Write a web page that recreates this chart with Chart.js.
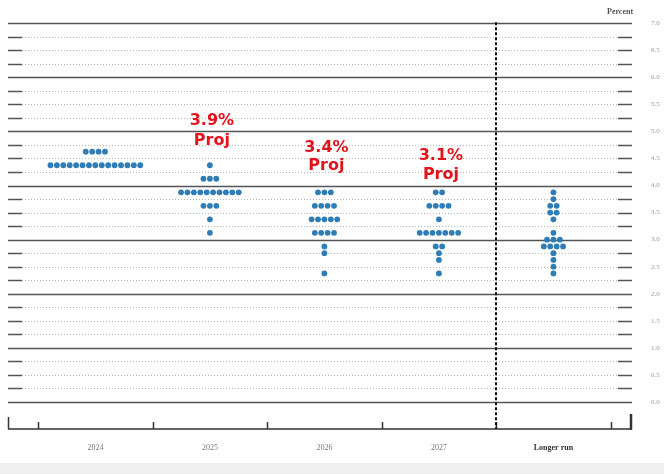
<!DOCTYPE html>
<html lang="en">
<head>
  <meta charset="UTF-8">
  <title>FOMC dot plot</title>
  <script src="https://cdn.jsdelivr.net/npm/chart.js@4.4.1/dist/chart.umd.min.js"></script>
  <style>
    html, body { margin: 0; padding: 0; background: #fff; }
    canvas { display: block; }
  </style>
</head>
<body>

  <canvas id="dotPlot" width="664" height="474"></canvas>

  <script>
    // Categories along the bottom
    const categories = ['2024', '2025', '2026', '2027', 'Longer run'];

    // Midpoint of target range (percent) and number of participants at each level
    const rates2024 = [4.625, 4.375];
    const counts2024 = [4, 15];

    const rates2025 = [4.375, 4.125, 3.875, 3.625, 3.375, 3.125];
    const counts2025 = [1, 3, 10, 3, 1, 1];

    const rates2026 = [3.875, 3.625, 3.375, 3.125, 2.875, 2.75, 2.375];
    const counts2026 = [3, 4, 5, 4, 1, 1, 1];

    const rates2027 = [3.875, 3.625, 3.375, 3.125, 2.875, 2.75, 2.625, 2.375];
    const counts2027 = [2, 4, 1, 7, 2, 1, 1, 1];

    const ratesLonger = [3.875, 3.75, 3.625, 3.5, 3.375, 3.125, 3.0, 2.875, 2.75, 2.625, 2.5, 2.375];
    const countsLonger = [1, 1, 2, 2, 1, 1, 3, 4, 1, 1, 1, 1];

    // Right axis tick labels
    const yTickValues = [0, 0.5, 1, 1.5, 2, 2.5, 3, 3.5, 4, 4.5, 5, 5.5, 6, 6.5, 7];

    // Red median notes for 2025-2027
    const projYears = ['2025', '2026', '2027'];
    const projLabels = ['3.9%', '3.4%', '3.1%'];

    const allRates = [rates2024, rates2025, rates2026, rates2027, ratesLonger];
    const allCounts = [counts2024, counts2025, counts2026, counts2027, countsLonger];

    const DOT_STEP = 0.056; // horizontal gap between dots, in category units

    function buildDots(catIndex) {
      const pts = [];
      allRates[catIndex].forEach(function (rate, r) {
        const n = allCounts[catIndex][r];
        for (let j = 0; j < n; j++) {
          pts.push({ x: catIndex + (j - (n - 1) / 2) * DOT_STEP, y: rate });
        }
      });
      return pts;
    }

    const datasets = categories.map(function (name, i) {
      return {
        label: name,
        data: buildDots(i),
        backgroundColor: '#2f7db6',
        borderColor: '#2f7db6',
        borderWidth: 0,
        pointRadius: 2.9,
      };
    });

    /* Draws the frame: background, grid, separator, bottom axis, notes */
    const fedPlot = {
      id: 'fedPlot',
      beforeDraw(chart) {
        const ctx = chart.ctx;
        ctx.save();
        ctx.fillStyle = '#ffffff';
        ctx.fillRect(0, 0, chart.width, chart.height);
        ctx.fillStyle = '#f0f0f0';
        ctx.fillRect(0, 463, chart.width, chart.height - 463);
        ctx.restore();
      },
      beforeDatasetsDraw(chart) {
        const ctx = chart.ctx;
        const area = chart.chartArea;
        const xs = chart.scales.x;
        const ys = chart.scales.y;
        ctx.save();

        // horizontal grid: solid on whole numbers, dotted in between
        for (let k = 0; k <= 28; k++) {
          const y = Math.round(ys.getPixelForValue(k / 4)) + 0.5;
          if (k % 4 === 0) {
            ctx.setLineDash([]);
            ctx.strokeStyle = '#555';
            ctx.lineWidth = 1.4;
            ctx.beginPath();
            ctx.moveTo(area.left, y);
            ctx.lineTo(area.right, y);
            ctx.stroke();
          } else {
            ctx.setLineDash([1, 2]);
            ctx.strokeStyle = '#b4b4b4';
            ctx.lineWidth = 1;
            ctx.beginPath();
            ctx.moveTo(area.left + 14, y);
            ctx.lineTo(area.right - 14, y);
            ctx.stroke();
            ctx.setLineDash([]);
            ctx.strokeStyle = '#555';
            ctx.lineWidth = 1.4;
            ctx.beginPath();
            ctx.moveTo(area.left, y);
            ctx.lineTo(area.left + 14, y);
            ctx.moveTo(area.right - 14, y);
            ctx.lineTo(area.right, y);
            ctx.stroke();
          }
        }

        // bottom axis with category boundary ticks
        const yb = area.bottom;
        ctx.setLineDash([]);
        ctx.strokeStyle = '#333';
        ctx.lineWidth = 1.5;
        ctx.beginPath();
        ctx.moveTo(area.left, yb);
        ctx.lineTo(area.right, yb);
        ctx.moveTo(area.left + 0.5, yb);
        ctx.lineTo(area.left + 0.5, yb - 12);
        for (let i = 0; i <= categories.length; i++) {
          const xt = Math.round(xs.getPixelForValue(i - 0.5)) + 0.5;
          ctx.moveTo(xt, yb);
          ctx.lineTo(xt, yb - 7);
        }
        ctx.stroke();
        ctx.lineWidth = 2.5;
        ctx.beginPath();
        ctx.moveTo(area.right - 1, yb + 0.7);
        ctx.lineTo(area.right - 1, yb - 15);
        ctx.stroke();

        // dashed separator before "Longer run"
        const xd = Math.round(xs.getPixelForValue(categories.length - 1.5));
        ctx.strokeStyle = '#111';
        ctx.lineWidth = 2;
        ctx.setLineDash([3, 2]);
        ctx.beginPath();
        ctx.moveTo(xd, area.top - 1);
        ctx.lineTo(xd, yb);
        ctx.stroke();

        // "Percent" caption
        ctx.setLineDash([]);
        ctx.fillStyle = '#555';
        ctx.font = 'bold 8px "Liberation Serif", "DejaVu Serif", serif';
        ctx.textAlign = 'left';
        ctx.textBaseline = 'middle';
        ctx.fillText('Percent', 607, 12);
        ctx.restore();
      },
      afterDatasetsDraw(chart) {
        const ctx = chart.ctx;
        const xs = chart.scales.x;
        const ys = chart.scales.y;
        const offsets = [[5.19, 4.83], [4.69, 4.36], [4.55, 4.2]];
        ctx.save();
        ctx.fillStyle = '#e3121b';
        ctx.font = 'bold 16px "DejaVu Sans", "Liberation Sans", sans-serif';
        ctx.textAlign = 'center';
        ctx.textBaseline = 'middle';
        projYears.forEach(function (yr, i) {
          const x = xs.getPixelForValue(categories.indexOf(yr)) + 2;
          ctx.fillText(projLabels[i], x, ys.getPixelForValue(offsets[i][0]));
          ctx.fillText('Proj', x, ys.getPixelForValue(offsets[i][1]));
        });
        ctx.restore();
      }
    };

    const config = {
      type: 'scatter',
      data: { datasets },
      plugins: [fedPlot],
      options: {
        responsive: false,
        animation: false,
        layout: { padding: { top: 19, left: 8, right: 0, bottom: 0 } },
        plugins: {
          legend: { display: false },
          tooltip: { enabled: false }
        },
        scales: {
          x: {
            type: 'linear',
            min: -0.763,
            max: 4.686,
            grid: { display: false, drawTicks: false },
            border: { display: false },
            afterBuildTicks(scale) {
              scale.ticks = categories.map(function (c, i) { return { value: i }; });
            },
            afterFit(scale) { scale.height = 45; },
            ticks: {
              padding: 14,
              color: function (c) { return c.index === categories.length - 1 ? '#333' : '#777'; },
              font: function (c) {
                return {
                  family: '"Liberation Serif", "DejaVu Serif", serif',
                  size: 8,
                  weight: c.index === categories.length - 1 ? 'bold' : 'normal'
                };
              },
              callback: function (v) { return categories[Math.round(v)]; }
            }
          },
          y: {
            position: 'right',
            min: -0.5,
            max: 7,
            grid: { display: false, drawTicks: false },
            border: { display: false },
            afterBuildTicks(scale) {
              scale.ticks = yTickValues.map(function (v) { return { value: v }; });
            },
            afterFit(scale) { scale.width = 32; },
            ticks: {
              padding: 19,
              color: '#999',
              font: { family: '"Liberation Serif", "DejaVu Serif", serif', size: 7 },
              callback: function (v) { return v.toFixed(1); }
            }
          }
        }
      }
    };

    new Chart(document.getElementById('dotPlot'), config);
  </script>
</body>
</html>
